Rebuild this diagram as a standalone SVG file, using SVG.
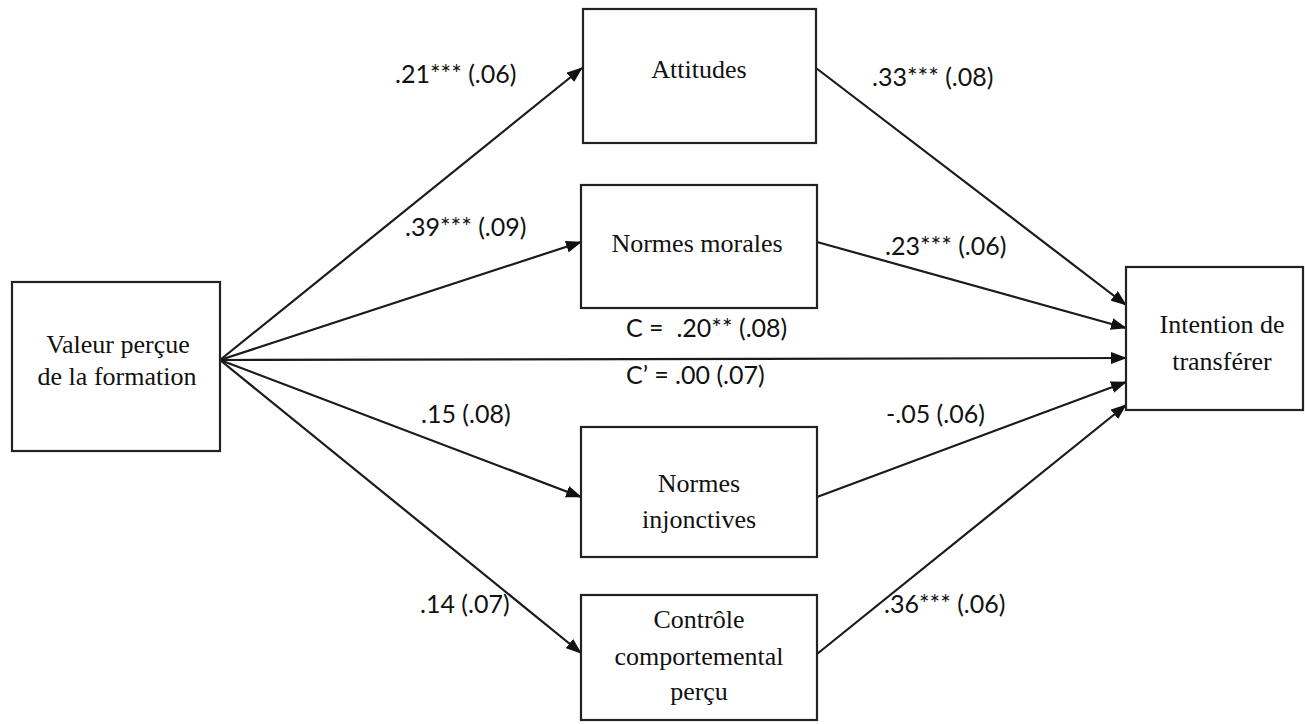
<svg xmlns="http://www.w3.org/2000/svg" width="1305" height="724" viewBox="0 0 1305 724">
<style>
.box{fill:#fff;stroke:#222;stroke-width:2.2}
.nt{font-family:"Liberation Serif","Times New Roman",serif;font-size:26px;fill:#111;text-anchor:middle}
.lb{font-family:Lato,"Liberation Sans",sans-serif;font-size:25px;fill:#111;white-space:pre}
.ln{stroke:#1a1a1a;stroke-width:2.2;fill:none;marker-end:url(#ah)}
</style>
<defs>
<marker id="ah" markerUnits="userSpaceOnUse" markerWidth="16" markerHeight="12" refX="15" refY="6" orient="auto">
<path d="M0,0 L16,6 L0,12 z" fill="#111"/>
</marker>
</defs>
<g id="connectors">
<line class="ln" x1="220" y1="360" x2="582" y2="68"/>
<line class="ln" x1="220" y1="360" x2="581" y2="242"/>
<line class="ln" x1="220" y1="360" x2="1126" y2="358"/>
<line class="ln" x1="220" y1="360" x2="581" y2="497"/>
<line class="ln" x1="220" y1="360" x2="581" y2="653"/>
<line class="ln" x1="816" y1="68" x2="1126" y2="305"/>
<line class="ln" x1="817" y1="242" x2="1126" y2="328"/>
<line class="ln" x1="817" y1="497" x2="1126" y2="382"/>
<line class="ln" x1="817" y1="654" x2="1126" y2="405"/>
</g>
<g id="labels">
<text class="lb" x="395" y="83">.21*** (.06)</text>
<text class="lb" x="872" y="86">.33*** (.08)</text>
<text class="lb" x="405" y="236">.39*** (.09)</text>
<text class="lb" x="885" y="255">.23*** (.06)</text>
<text class="lb" x="626" y="337" xml:space="preserve">C =  .20** (.08)</text>
<text class="lb" x="626" y="384">C’ = .00 (.07)</text>
<text class="lb" x="421" y="423">.15 (.08)</text>
<text class="lb" x="886" y="423">-.05 (.06)</text>
<text class="lb" x="420" y="613">.14 (.07)</text>
<text class="lb" x="884" y="613">.36*** (.06)</text>
</g>
<g id="valeur">
<rect class="box" x="12" y="282" width="208" height="169"/>
<text class="nt" x="118" y="353">Valeur perçue</text>
<text class="nt" x="117" y="385">de la formation</text>
</g>
<g id="attitudes">
<rect class="box" x="583" y="9" width="233" height="134"/>
<text class="nt" x="699" y="78">Attitudes</text>
</g>
<g id="normes-morales">
<rect class="box" x="581" y="185" width="236" height="123"/>
<text class="nt" x="697" y="252">Normes morales</text>
</g>
<g id="normes-injonctives">
<rect class="box" x="581" y="427" width="236" height="130"/>
<text class="nt" x="699" y="492">Normes</text>
<text class="nt" x="699" y="528">injonctives</text>
</g>
<g id="controle">
<rect class="box" x="581" y="595" width="236" height="125"/>
<text class="nt" x="699" y="628">Contrôle</text>
<text class="nt" x="699" y="665">comportemental</text>
<text class="nt" x="699" y="700">perçu</text>
</g>
<g id="intention">
<rect class="box" x="1126" y="267" width="177" height="143"/>
<text class="nt" x="1222" y="333">Intention de</text>
<text class="nt" x="1222" y="370">transférer</text>
</g>
</svg>
